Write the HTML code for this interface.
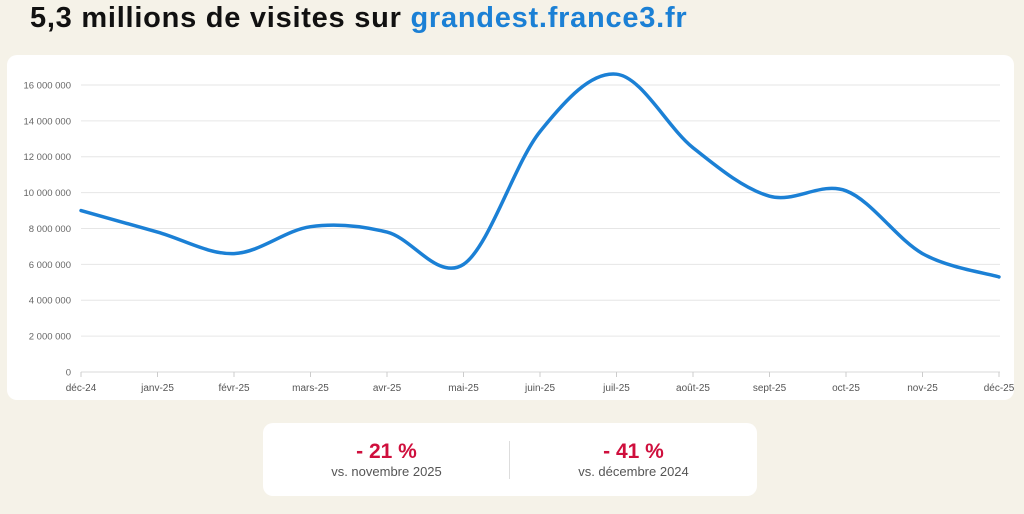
<!DOCTYPE html>
<html><head><meta charset="utf-8"><style>
body{margin:0;width:1024px;height:514px;background:#f5f2e8;font-family:"Liberation Sans",sans-serif;position:relative;overflow:hidden}
h1{position:absolute;left:30px;top:2px;margin:0;font-size:29px;font-weight:bold;color:#111;letter-spacing:0.75px}
h1 span{color:#1b80d5}
.card{position:absolute;left:7px;top:55px;width:1007px;height:345px;background:#fff;border-radius:10px}
.stats{position:absolute;left:263px;top:423px;width:494px;height:73px;background:#fff;border-radius:10px}
.s{position:absolute;top:17px;width:247px;text-align:center}
.s b{display:block;color:#cf0f3d;font-size:21px;line-height:24px}
.s i{font-style:normal;display:block;color:#555;font-size:13px;line-height:16px}
.div{position:absolute;left:246px;top:18px;width:1px;height:38px;background:#ddd}
svg{position:absolute;left:0;top:0}
</style></head><body>
<h1>5,3 millions de visites sur <span>grandest.france3.fr</span></h1>
<div class="card"></div>
<svg id="c" width="1024" height="514" font-family="Liberation Sans, sans-serif"></svg>
<div class="stats">
<div class="s" style="left:0"><b>- 21 %</b><i>vs. novembre 2025</i></div>
<div class="div"></div>
<div class="s" style="left:247px"><b>- 41 %</b><i>vs. décembre 2024</i></div>
</div>
<script>
var s=document.getElementById('c'),h='';
var x0=81,x1=999,y0=372,k=17.94/1e6;
for(var v=0;v<=16e6;v+=2e6){var y=y0-v*k;
h+='<line x1="81" x2="1000" y1="'+y+'" y2="'+y+'" stroke="'+(v?'#e6e6e6':'#d8d8d8')+'"/>';
var t=v?String(v/1e6)+' 000 000':'0';
h+='<text x="71" y="'+(y+3.5)+'" text-anchor="end" font-size="9.5" fill="#666">'+t+'</text>';}
var m=['déc-24','janv-25','févr-25','mars-25','avr-25','mai-25','juin-25','juil-25','août-25','sept-25','oct-25','nov-25','déc-25'];
var d=[9.0,7.8,6.6,8.1,7.8,6.0,13.4,16.6,12.5,9.8,10.1,6.6,5.3];
var dx=(x1-x0)/12,P=[];
for(var i=0;i<13;i++){var x=x0+i*dx;P.push([x,y0-d[i]*1e6*k]);
h+='<line x1="'+x+'" x2="'+x+'" y1="372" y2="377" stroke="#ccc"/>';
h+='<text x="'+x+'" y="391" text-anchor="middle" font-size="10" fill="#555">'+m[i]+'</text>';}
var p='M'+P[0];
for(var i=0;i<12;i++){var a=P[Math.max(i-1,0)],b=P[i],c=P[i+1],e=P[Math.min(i+2,12)];
p+=' C'+(b[0]+(c[0]-a[0])/6)+','+(b[1]+(c[1]-a[1])/6)+' '+(c[0]-(e[0]-b[0])/6)+','+(c[1]-(e[1]-b[1])/6)+' '+c[0]+','+c[1];}
h+='<path d="'+p+'" fill="none" stroke="#1b80d5" stroke-width="3.5" stroke-linecap="round"/>';
s.innerHTML=h;
</script>
</body></html>
